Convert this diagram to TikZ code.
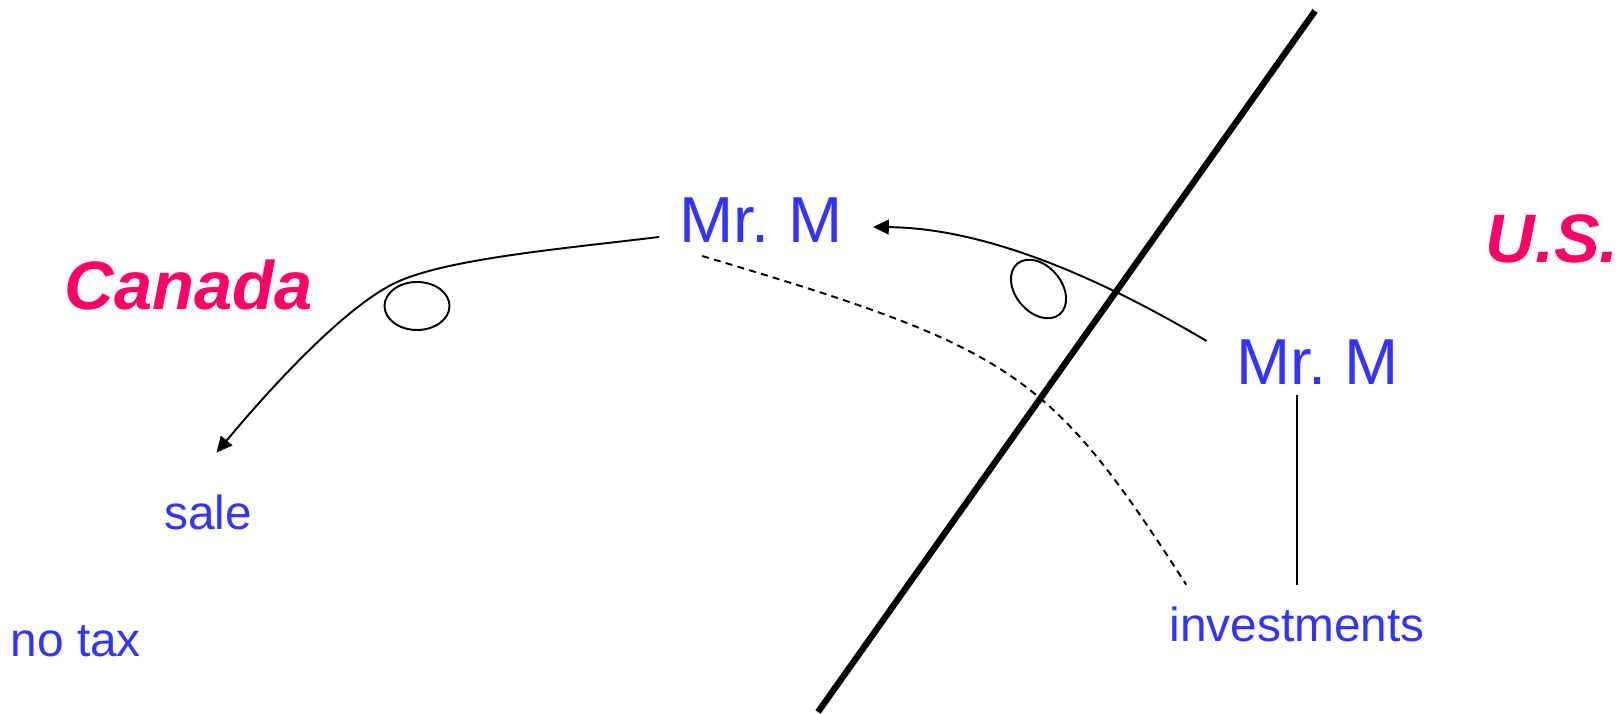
\documentclass[tikz,border=0pt]{standalone}
\usepackage{fontspec}
\setmainfont{Liberation Sans}
\usepackage{tikz}
\usetikzlibrary{calc,arrows.meta}
\definecolor{mblue}{RGB}{51,51,255}
\definecolor{mpink}{RGB}{255,0,102}

\begin{document}
\begin{tikzpicture}[
          country/.style={text=mpink, font=\fontsize{19.5}{22}\selectfont\bfseries\itshape, inner sep=0pt, anchor=base west},
          person/.style={text=mblue, font=\fontsize{18.5}{21}\selectfont, inner sep=0pt, anchor=base},
          item/.style={text=mblue, font=\fontsize{13.6}{16}\selectfont, inner sep=0pt, anchor=base west},
          flow/.style={-{Triangle[length=4.5pt,width=4.2pt]}, line width=0.55pt},
          border/.style={line width=1.8pt},
        ]
        \useasboundingbox (0,0) rectangle (16.2,7.14);
        % border between the two countries
        \coordinate (bordertop) at (13.15,7.03);
        \coordinate (borderbot) at (8.18,0.02);
        \draw[border] (borderbot) -- (bordertop);
        \node[country] (canada) at (0.64,4.04) {Canada};
        \node[country] (us) at (14.85,4.51) {U.S.};
        \node[person] (mrmca) at (7.61,4.71) {Mr.\ M};
        \node[person] (mrmus) at (13.175,3.29) {Mr.\ M};
        \node[item] (sale) at (1.635,1.84) {sale};
        \node[item] (notax) at (0.10,0.57) {no tax};
        \node[item] (invest) at (11.69,0.72) {investments};
        % moves
        \draw[flow] ($(mrmus.base west)+(-0.29,0.44)$) .. controls (10.90,4.42) and (9.80,4.86) .. ($(mrmca.base east)+(0.30,0.16)$);
        \draw[flow] ($(mrmca.base west)+(-0.20,0.06)$) .. controls (5.60,4.65) and (4.45,4.55) .. (3.95,4.31)
          .. controls (3.45,4.07) and (2.72,3.28) .. ($(sale.north)+(0.085,0.42)$);
        \draw[line width=0.55pt] (4.17,4.08) ellipse [x radius=0.325, y radius=0.24];
        \draw[line width=0.55pt] (10.385,4.25) ellipse [x radius=0.33, y radius=0.23, rotate=-50];
        % holdings
        \draw[dashed, dash pattern=on 2pt off 1.5pt, line width=0.55pt] ($(mrmca.base west)+(0.23,-0.13)$) .. controls (10.15,3.65) and (10.49,3.42) .. ($(invest.north)+(-1.11,0.22)$);
        \draw[line width=0.6pt] ($(invest.north)+(0,0.22)$) -- ($(invest.north |- mrmus.south)+(0,-0.09)$);
      \end{tikzpicture}
\end{document}
